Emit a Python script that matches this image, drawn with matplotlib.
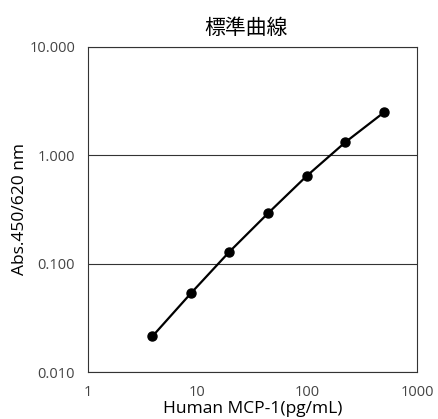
import matplotlib
matplotlib.use("Agg")
import matplotlib.pyplot as plt
from matplotlib.ticker import FixedLocator, FixedFormatter, NullLocator

plt.rcParams["font.family"] = ["Open Sans", "Noto Sans CJK JP", "DejaVu Sans"]

# standard curve, 2.25-fold dilution series
conc = [3.9, 8.8, 19.5, 43.9, 98.8, 222, 500]
absorbance = [0.0214, 0.0537, 0.128, 0.290, 0.640, 1.31, 2.47]

x_ticks = [1, 10, 100, 1000]
x_labels = ["1", "10", "100", "1000"]
y_ticks = [0.01, 0.1, 1, 10]
y_labels = ["0.010", "0.100", "1.000", "10.000"]

fig = plt.figure(figsize=(4.38, 4.19), dpi=100)
ax = fig.add_axes([0.2, 0.112, 0.752, 0.777])

ax.plot(conc, absorbance, "-o", color="black", lw=1.6, ms=6.5)
ax.set_xscale("log")
ax.set_yscale("log")
ax.set_xlim(1, 1000)
ax.set_ylim(0.01, 10)

ax.xaxis.set_major_locator(FixedLocator(x_ticks))
ax.xaxis.set_major_formatter(FixedFormatter(x_labels))
ax.xaxis.set_minor_locator(NullLocator())
ax.yaxis.set_major_locator(FixedLocator(y_ticks))
ax.yaxis.set_major_formatter(FixedFormatter(y_labels))
ax.yaxis.set_minor_locator(NullLocator())
ax.tick_params(length=0, labelsize=10.5, colors="#444444")
ax.tick_params(axis="y", pad=9)
ax.tick_params(axis="x", pad=9)

ax.grid(axis="y", color="#333333", lw=0.8)
for s in ax.spines.values():
    s.set_color("#333333")
    s.set_linewidth(0.8)

ax.set_title("標準曲線", fontsize=15, pad=9, x=0.48)
ax.set_xlabel("Human MCP-1(pg/mL)", fontsize=12.5, labelpad=1)
ax.set_ylabel("Abs.450/620 nm", fontsize=12.5, labelpad=1)

fig.savefig("out.png", dpi=100)
